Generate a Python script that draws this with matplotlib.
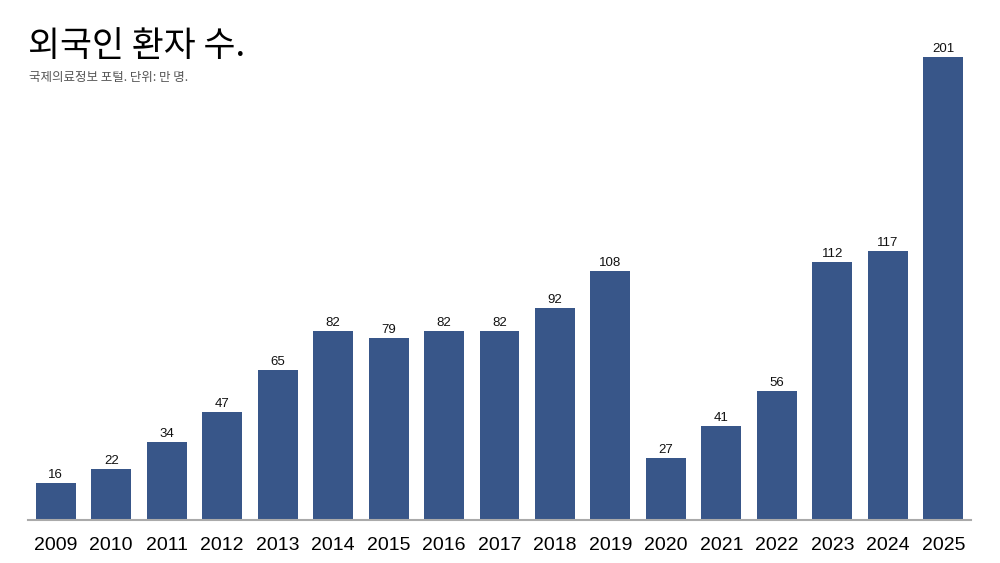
import matplotlib
matplotlib.use('Agg')
from matplotlib import pyplot as plt

plt.rcParams['font.family'] = ['Noto Sans CJK KR', 'DejaVu Sans']

years = ['2009', '2010', '2011', '2012', '2013', '2014', '2015', '2016', '2017',
         '2018', '2019', '2020', '2021', '2022', '2023', '2024', '2025']
patients = [16, 22, 34, 47, 65, 82, 79, 82, 82, 92, 108, 27, 41, 56, 112, 117, 201]

title = '외국인 환자 수.'
subtitle = '국제의료정보 포털. 단위: 만 명.'

bar_color = '#385689'

fig = plt.figure(figsize=(10, 5.63), dpi=100)
ax = fig.add_axes([0.028, 0.0764, 0.943, 0.822])

x = range(len(years))
bars = ax.bar(x, patients, width=0.72, color=bar_color)
for bar, v in zip(bars, patients):
    ax.text(bar.get_x() + bar.get_width() / 2, v + 0.8, str(v),
            ha='center', va='bottom', fontsize=9.5, family=['Liberation Sans', 'DejaVu Sans'],
            color='#111111')

ax.set_xlim(-0.5, len(years) - 0.5)
ax.set_ylim(0, 201)
ax.set_xticks(list(x))
ax.set_xticklabels(years, fontsize=14, family=['Liberation Sans', 'DejaVu Sans'])
ax.tick_params(axis='x', length=0, pad=12)
ax.set_yticks([])
for side in ['top', 'right', 'left']:
    ax.spines[side].set_visible(False)
ax.spines['bottom'].set_color('#aaaaaa')
ax.spines['bottom'].set_linewidth(1.5)

fig.text(0.028, 0.9, title, fontsize=25, color='black', va='baseline')
fig.text(0.029, 0.857, subtitle, fontsize=9, color='#555555', va='baseline')

fig.savefig('out.png', dpi=100)
